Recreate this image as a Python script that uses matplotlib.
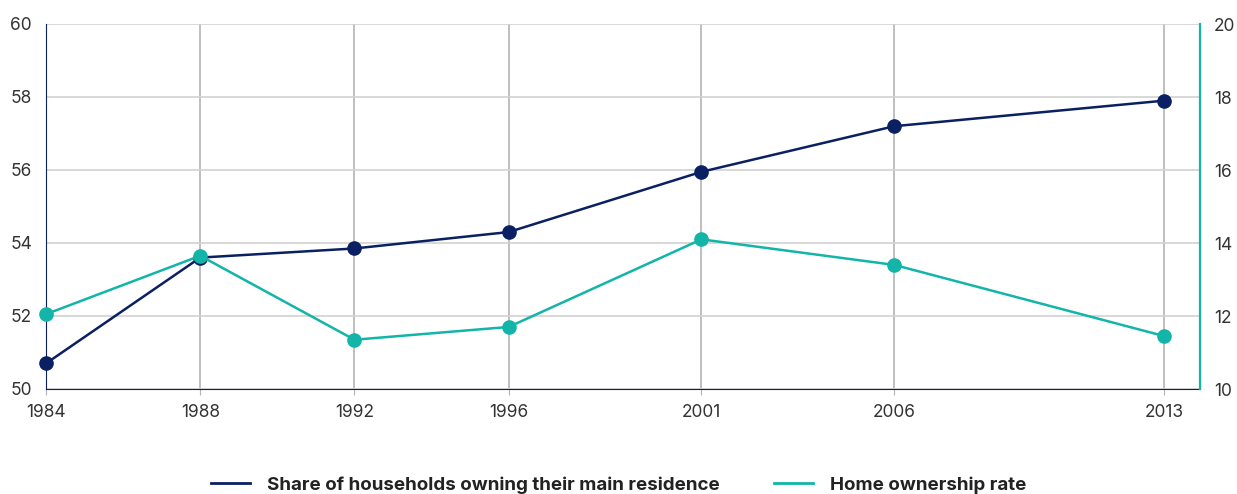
import matplotlib
matplotlib.use("Agg")
import matplotlib.pyplot as plt
from matplotlib.lines import Line2D

plt.rcParams["font.family"] = ["Inter", "DejaVu Sans"]

years = [1984, 1988, 1992, 1996, 2001, 2006, 2013]
share_owning_main = [50.7, 53.6, 53.85, 54.3, 55.95, 57.2, 57.9]
home_ownership_rate = [12.05, 13.65, 11.35, 11.7, 14.1, 13.4, 11.45]
series_labels = ["Share of households owning their main residence", "Home ownership rate"]
left_ticks = [50, 52, 54, 56, 58, 60]
right_ticks = [10, 12, 14, 16, 18, 20]

NAVY = "#0a2062"
TEAL = "#12b5a7"
TEXT = "#333333"

fig = plt.figure(figsize=(12.37, 4.94), dpi=100)
ax = fig.add_axes([46 / 1237, 105 / 494, (1200 - 46) / 1237, (389 - 24) / 494])
ax2 = ax.twinx()

ax.plot(years, share_owning_main, color=NAVY, lw=1.8, marker="o", ms=9.5,
        zorder=3, clip_on=False)
ax2.plot(years, home_ownership_rate, color=TEAL, lw=1.8, marker="o", ms=9.5,
         zorder=3, clip_on=False)

ax.set_xlim(1984, 2013.93)
ax.set_ylim(50, 60)
ax2.set_ylim(10, 20)
ax.set_xticks(years)
ax.set_yticks(left_ticks)
ax2.set_yticks(right_ticks)

ax.grid(axis="y", color="#d2d2d2", lw=1.2)
ax.grid(axis="x", color="#b4b4b4", lw=1.2)
ax.set_axisbelow(True)

for a in (ax, ax2):
    a.spines["top"].set_visible(False)
ax.spines["left"].set_color(NAVY)
ax.spines["bottom"].set_color(NAVY)
ax.spines["right"].set_visible(False)
ax2.spines["left"].set_visible(False)
ax2.spines["bottom"].set_visible(False)
ax2.spines["right"].set_color(TEAL)
ax2.spines["right"].set_linewidth(1.6)

ax.tick_params(axis="x", length=4, color="#b4b4b4", pad=7, labelsize=12.5, labelcolor=TEXT)
ax.tick_params(axis="y", length=0, pad=10, labelsize=12.5, labelcolor=TEXT)
ax2.tick_params(axis="y", length=0, pad=10, labelsize=12.5, labelcolor=TEXT)

handles = [Line2D([], [], color=NAVY, lw=2), Line2D([], [], color=TEAL, lw=2)]
fig.legend(handles, series_labels, loc="center", bbox_to_anchor=(0.5, 0.018),
           ncol=2, frameon=False, handlelength=2.1, handletextpad=0.9,
           columnspacing=2.9, prop={"size": 13.5, "weight": "bold"},
           labelcolor="#222222")

fig.savefig("out.png", dpi=100)
